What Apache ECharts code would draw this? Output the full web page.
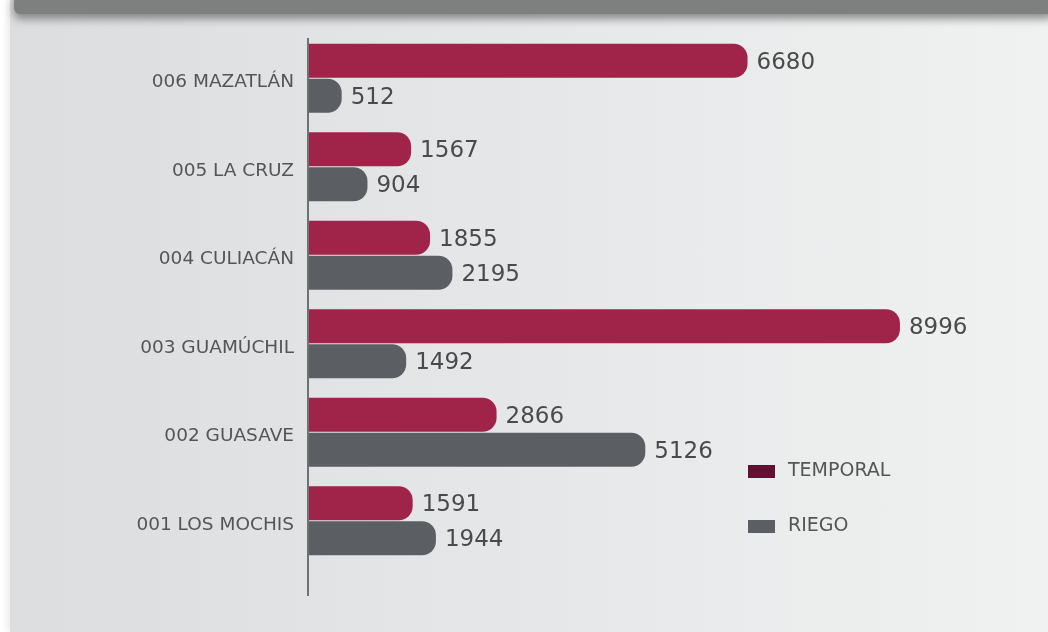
<!DOCTYPE html>
<html>
<head>
<meta charset="utf-8">
<script src="https://cdn.jsdelivr.net/npm/echarts@6/dist/echarts.min.js"></script>
<style>
html, body { margin: 0; padding: 0; width: 1048px; height: 632px; overflow: hidden; background: #ffffff; }
#panel { position: absolute; left: 10px; top: 0; width: 1038px; height: 632px;
  background: linear-gradient(to right, #dcdddf 0%, #e6e7e8 50%, #f0f1f1 100%);
  box-shadow: -3px 0 6px rgba(0,0,0,0.08); }
#topbar { position: absolute; left: 14px; top: -10px; width: 1040px; height: 24px;
  background: #7e7f7f; box-shadow: 0 5px 9px rgba(60,60,60,0.55); border-radius: 6px; }
#main { position: absolute; left: 0; top: 0; width: 1048px; height: 632px; }
</style>
</head>
<body>
<div id="panel"></div>
<div id="topbar"></div>
<div id="main"></div>
<script>
var categories = ['006 MAZATLÁN', '005 LA CRUZ', '004 CULIACÁN', '003 GUAMÚCHIL', '002 GUASAVE', '001 LOS MOCHIS'];
var temporalValues = [6680, 1567, 1855, 8996, 2866, 1591];
var riegoValues = [512, 904, 2195, 1492, 5126, 1944];

var fontName = 'DejaVu Sans';

var myChart = echarts.init(document.getElementById('main'));

var valueLabel = {
	show: true,
	position: 'right',
	distance: 9,
	offset: [0, 2],
	color: '#4a4a4a',
	fontSize: 23,
	fontFamily: fontName
};

var option = {
	animation: false,
	backgroundColor: 'transparent',
	grid: {
		left: 308,
		right: 82,
		top: 34,
		height: 531
	},
	legend: {
		orient: 'vertical',
		left: 748,
		top: 462,
		padding: 0,
		itemWidth: 27,
		itemHeight: 13,
		itemGap: 36,
		icon: 'rect',
		textStyle: { color: '#555555', fontSize: 19, fontFamily: fontName, padding: [0, 0, 0, 8] },
		data: [
			{ name: 'TEMPORAL', itemStyle: { color: '#621132' } },
			{ name: 'RIEGO', itemStyle: { color: '#5b5f63' } }
		]
	},
	xAxis: {
		type: 'value',
		min: 0,
		max: 10000,
		show: false
	},
	yAxis: {
		type: 'category',
		inverse: true,
		data: categories,
		axisLine: { show: false },
		axisTick: { show: false },
		axisLabel: { color: '#555555', fontSize: 18.5, fontFamily: fontName, margin: 14, verticalAlign: 'top', lineHeight: 8 }
	},
	graphic: [{
		type: 'line',
		shape: { x1: 308, y1: 38, x2: 308, y2: 596 },
		style: { stroke: '#707173', lineWidth: 2 },
		z: 10
	}],
	series: [
		{
			name: 'TEMPORAL',
			type: 'bar',
			data: temporalValues,
			barWidth: 34,
			barGap: '3%',
			itemStyle: { color: '#a0234a', borderRadius: [0, 14, 14, 0] },
			label: valueLabel
		},
		{
			name: 'RIEGO',
			type: 'bar',
			data: riegoValues,
			barWidth: 34,
			itemStyle: { color: '#5b5f63', borderRadius: [0, 14, 14, 0] },
			label: valueLabel
		}
	]
};
myChart.setOption(option);
</script>
</body>
</html>
